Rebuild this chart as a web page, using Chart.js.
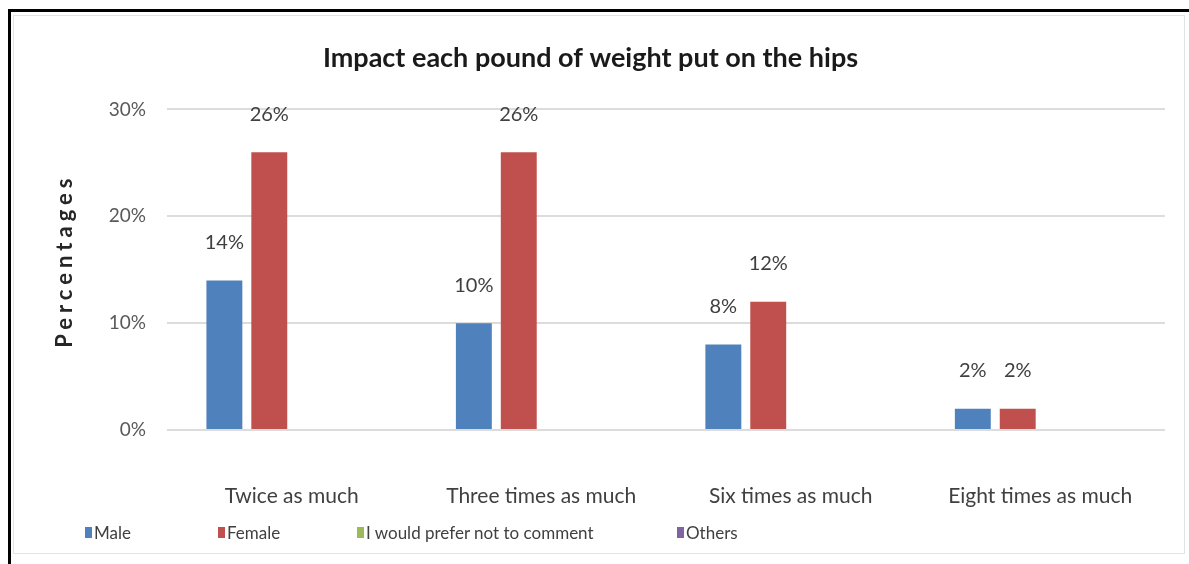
<!DOCTYPE html>
<html>
<head>
<meta charset="UTF-8">
<title>Impact each pound of weight put on the hips</title>
<script src="https://cdn.jsdelivr.net/npm/chart.js@4.4.1/dist/chart.umd.min.js"></script>
<style>
  html, body { margin: 0; padding: 0; background: #fff; }
  body { width: 1189px; height: 564px; position: relative; overflow: hidden; font-family: Lato, sans-serif; }
  #frame { position: absolute; left: 8px; top: 9px; width: 1200px; height: 600px; border-left: 3px solid #000; border-top: 3px solid #000; }
  #inner { position: absolute; left: 13px; top: 15px; width: 1170px; height: 537px; border: 1px solid #e3e3e3; }
  #holder { position: absolute; left: 0; top: 0; width: 1189px; height: 564px; }
  #legend { position: absolute; left: 85px; top: 522px; display: flex; font-size: 17px; color: #404040; }
  #legend .item { display: flex; align-items: center; white-space: nowrap; }
  #legend .item:nth-child(1) { width: 133px; }
  #legend .item:nth-child(2) { width: 139px; }
  #legend .item:nth-child(3) { width: 320px; }
  #legend .key { width: 7px; height: 11px; margin-right: 2px; }
</style>
</head>
<body>
<div id="frame"></div>
<div id="inner"></div>
<div id="holder"><canvas id="chart-area" width="1189" height="564"></canvas></div>
<div id="legend"></div>

<script>
  // categories on the x axis
  var categories = ['Twice as much', 'Three times as much', 'Six times as much', 'Eight times as much'];

  // series values, in percent
  var male = [14, 10, 8, 2];
  var female = [26, 26, 12, 2];
  var noComment = [0, 0, 0, 0];
  var others = [0, 0, 0, 0];

  var seriesNames = ['Male', 'Female', 'I would prefer not to comment', 'Others'];
  var seriesColors = ['#4f81bd', '#c0504d', '#9bbb59', '#8064a2'];

  // y axis ticks
  var yTicks = [0, 10, 20, 30];
  var yTitle = 'Percentages';

  var textColor = '#404040';

  // value labels above each bar (skip empty series)
  var barLabels = {
    id: 'barLabels',
    afterDatasetsDraw: function (chart) {
      var ctx = chart.ctx;
      ctx.save();
      ctx.font = '20px Lato';
      ctx.fillStyle = textColor;
      ctx.textAlign = 'center';
      ctx.textBaseline = 'middle';
      chart.data.datasets.forEach(function (ds, i) {
        var meta = chart.getDatasetMeta(i);
        meta.data.forEach(function (bar, j) {
          var v = ds.data[j];
          if (!v) return;
          ctx.fillText(v + '%', bar.x, bar.y - 38);
        });
      });
      ctx.restore();
    }
  };

  // spaced-out vertical axis title
  var axisTitle = {
    id: 'axisTitle',
    afterDraw: function (chart) {
      var ctx = chart.ctx;
      var area = chart.chartArea;
      ctx.save();
      ctx.translate(65, (area.top + area.bottom) / 2 - 7);
      ctx.rotate(-Math.PI / 2);
      ctx.font = 'bold 22px Lato';
      ctx.letterSpacing = '5px';
      ctx.fillStyle = '#262626';
      ctx.textAlign = 'center';
      ctx.textBaseline = 'middle';
      ctx.fillText(yTitle, 2, 0);
      ctx.restore();
    }
  };

  var config = {
    type: 'bar',
    data: {
      labels: categories,
      datasets: [male, female, noComment, others].map(function (d, i) {
        return {
          label: seriesNames[i],
          data: d,
          backgroundColor: seriesColors[i],
          borderWidth: 0,
          categoryPercentage: 0.72,
          barPercentage: 0.8
        };
      })
    },
    options: {
      responsive: false,
      animation: false,
      layout: { padding: { left: 15, right: 23, top: 20, bottom: 40 } },
      plugins: {
        legend: { display: false },
        tooltip: { enabled: false },
        title: {
          display: true,
          text: 'Impact each pound of weight put on the hips',
          color: '#1a1a1a',
          font: { family: 'Lato', size: 27, weight: 'bold' },
          padding: { top: 22, bottom: 35 }
        }
      },
      scales: {
        x: {
          grid: { display: false, drawTicks: false },
          border: { display: false },
          ticks: { color: textColor, font: { family: 'Lato', size: 21 }, padding: 54, maxRotation: 0 },
          afterFit: function (scale) { scale.height = 94; }
        },
        y: {
          min: 0,
          max: 30,
          afterBuildTicks: function (scale) {
            scale.ticks = yTicks.map(function (v) { return { value: v }; });
          },
          grid: { color: '#dcdcdc', lineWidth: 2, drawTicks: false },
          border: { display: false },
          ticks: {
            color: '#595959',
            font: { family: 'Lato', size: 19 },
            padding: 21,
            callback: function (v) { return v + '%'; }
          },
          afterFit: function (scale) { scale.width = 152; }
        }
      }
    },
    plugins: [barLabels, axisTitle]
  };

  window.onload = function () {
    var ctx = document.getElementById('chart-area').getContext('2d');
    window.myBar = new Chart(ctx, config);

    // legend row built from the datasets
    var legend = document.getElementById('legend');
    window.myBar.data.datasets.forEach(function (ds) {
      var item = document.createElement('div');
      item.className = 'item';
      var key = document.createElement('span');
      key.className = 'key';
      key.style.background = ds.backgroundColor;
      item.appendChild(key);
      item.appendChild(document.createTextNode(ds.label));
      legend.appendChild(item);
    });
  };
</script>
</body>
</html>
